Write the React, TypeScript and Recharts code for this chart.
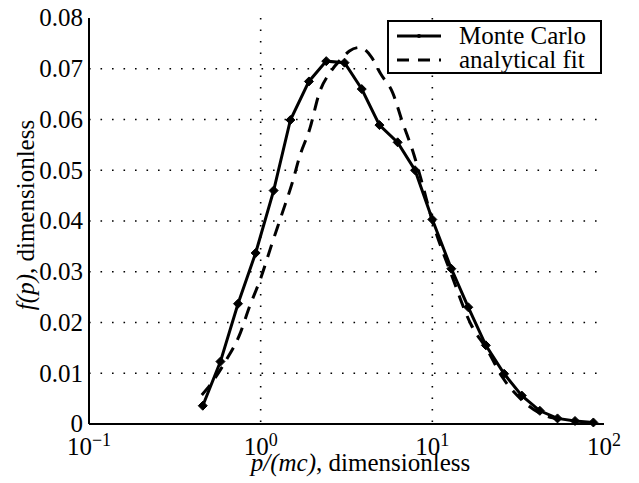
import React from 'react';
import { LineChart, Line, XAxis, YAxis, CartesianGrid, Legend } from 'recharts';

const mcP = [0.46, 0.583, 0.738, 0.935, 1.19, 1.49, 1.91, 2.41, 3.08, 3.88, 4.92, 6.28, 7.93, 10.0, 12.9, 16.2, 20.5, 26.2, 33.2, 42.3, 53.6, 67.8, 86.7];
const mcF = [0.0036, 0.0123, 0.0237, 0.0337, 0.046, 0.0599, 0.0675, 0.0715, 0.0712, 0.066, 0.0589, 0.0555, 0.050, 0.0403, 0.0306, 0.023, 0.0155, 0.0099, 0.0056, 0.0026, 0.0011, 0.0006, 0.0003];

const fitP = [0.454, 0.505, 0.63, 0.748, 0.863, 1.01, 1.15, 1.34, 1.53, 1.69, 1.93, 2.2, 2.58, 3.0, 3.29, 3.77, 4.42, 5.0, 5.87, 6.71, 7.69, 8.6, 10, 12.9, 16.8, 20.9, 25.5, 33.3, 42, 55];
const fitF = [0.0057, 0.0076, 0.0126, 0.0173, 0.0232, 0.0291, 0.035, 0.0417, 0.0476, 0.0528, 0.0581, 0.0653, 0.0696, 0.0722, 0.0735, 0.0742, 0.0723, 0.069, 0.0653, 0.0594, 0.0538, 0.0482, 0.04, 0.0295, 0.0196, 0.0146, 0.0093, 0.0047, 0.0022, 0.0009];

const xTicks = [0.1, 1, 10, 100];
const xTickExp = ['\u22121', '0', '1', '2'];
const xInnerTicks = [1, 10];
const yTicks = [0, 0.01, 0.02, 0.03, 0.04, 0.05, 0.06, 0.07, 0.08];
const yTickLabels = ['0', '0.01', '0.02', '0.03', '0.04', '0.05', '0.06', '0.07', '0.08'];
const yInnerTicks = [0.01, 0.02, 0.03, 0.04, 0.05, 0.06, 0.07];
const seriesNames = ['Monte Carlo', 'analytical fit'];

const mcData = mcP.map((p, i) => ({ p, f: mcF[i] }));
const fitData = fitP.map((p, i) => ({ p, f: fitF[i] }));

const FONT = 'Liberation Serif, Times New Roman, serif';
const textStyle = { fontFamily: FONT };

const XTick = (props: any) => {
  const { x, y, payload } = props;
  const idx = xTicks.indexOf(payload.value);
  return (
    <text x={x} y={y + 31} textAnchor="middle" style={textStyle} fontSize={25} fill="#000">
      <tspan>10</tspan>
      <tspan dy={-9} fontSize={18}>{xTickExp[idx]}</tspan>
    </text>
  );
};

const YTick = (props: any) => {
  const { x, y, payload } = props;
  const idx = yTicks.findIndex((v) => Math.abs(v - payload.value) < 1e-9);
  return (
    <text x={x} y={y} dy="0.33em" textAnchor="end" style={textStyle} fontSize={25} fill="#000">
      {yTickLabels[idx]}
    </text>
  );
};

const XLabel = (props: any) => {
  const { viewBox } = props;
  const cx = viewBox.x + viewBox.width / 2 + 14;
  return (
    <text x={cx} y={viewBox.y + 47} textAnchor="middle" style={textStyle} fontSize={25} fill="#000">
      <tspan fontStyle="italic">p/(mc)</tspan>
      <tspan>, dimensionless</tspan>
    </text>
  );
};

const YLabel = (props: any) => {
  const { viewBox } = props;
  const cy = viewBox.y + viewBox.height / 2 - 6;
  const x = 26;
  return (
    <text x={x} y={cy} textAnchor="middle" style={textStyle} fontSize={25} fill="#000" transform={`rotate(-90 ${x} ${cy})`}>
      <tspan fontStyle="italic">f(p)</tspan>
      <tspan>, dimensionless</tspan>
    </text>
  );
};

const Diamond = (props: any) => {
  const { cx, cy } = props;
  if (cx == null || cy == null) return null;
  const s = 4.5;
  return <path d={`M${cx},${cy - s}L${cx + s},${cy}L${cx},${cy + s}L${cx - s},${cy}Z`} fill="#000" stroke="#000" strokeWidth={1} />;
};

const LegendBox = () => (
  <div
    style={{
      border: '2px solid #000',
      background: '#fff',
      width: 211,
      height: 50,
      boxSizing: 'content-box',
      fontFamily: FONT,
      fontSize: 25,
      lineHeight: '25px',
      color: '#000',
    }}
  >
    {seriesNames.map((name, i) => (
      <div key={name} style={{ display: 'flex', alignItems: 'center', height: 25, marginTop: i === 0 ? 1 : -1 }}>
        <svg width={68} height={25} style={{ display: 'block' }}>
          <line x1={8} y1={13} x2={52} y2={13} stroke="#000" strokeWidth={3} strokeDasharray={i === 1 ? '12 9' : undefined} />
          {i === 0 ? <circle cx={30} cy={13} r={2} fill="#000" /> : null}
        </svg>
        <span style={{ marginLeft: 2 }}>{name}</span>
      </div>
    ))}
  </div>
);

export default function App() {
  return (
    <LineChart width={631} height={475} margin={{ top: 10, right: 35, bottom: 29, left: 0 }}>
      <CartesianGrid
        stroke="#000"
        strokeWidth={1.6}
        strokeDasharray="1.6 9.9"
        horizontalValues={yInnerTicks}
        verticalValues={xInnerTicks}
      />
      <XAxis xAxisId="bottomTicks" orientation="bottom" mirror type="number" scale="log" domain={[0.1, 100]} ticks={xInnerTicks} allowDataOverflow height={0} axisLine={false} tickSize={6} tickLine={{ stroke: '#000', strokeWidth: 1.5 }} tick={false} />
      <XAxis
        dataKey="p"
        type="number"
        scale="log"
        domain={[0.1, 100]}
        ticks={xTicks}
        allowDataOverflow
        height={30}
        stroke="#000"
        strokeWidth={2}
        tickLine={false}
        tickSize={0}
        tickMargin={0}
        tick={<XTick />}
        label={<XLabel />}
        interval={0}
      />
      <XAxis xAxisId="top" orientation="top" mirror type="number" scale="log" domain={[0.1, 100]} ticks={xInnerTicks} allowDataOverflow height={0} stroke="#000" strokeWidth={2} tick={false} tickSize={6} tickLine={{ stroke: '#000', strokeWidth: 1.5 }} />
      <YAxis yAxisId="leftTicks" orientation="left" mirror type="number" domain={[0, 0.08]} ticks={yInnerTicks} width={0} axisLine={false} tickSize={6} tickLine={{ stroke: '#000', strokeWidth: 1.5 }} tick={false} />
      <YAxis
        dataKey="f"
        type="number"
        domain={[0, 0.08]}
        ticks={yTicks}
        width={81}
        stroke="#000"
        strokeWidth={2}
        tickLine={false}
        tickSize={0}
        tickMargin={6}
        tick={<YTick />}
        label={<YLabel />}
        interval={0}
      />
      <YAxis yAxisId="right" orientation="right" mirror type="number" domain={[0, 0.08]} ticks={yInnerTicks} width={0} stroke="#000" strokeWidth={2} tick={false} tickSize={6} tickLine={{ stroke: '#000', strokeWidth: 1.5 }} />
      <Legend
        layout="horizontal"
        verticalAlign="middle"
        align="center"
        content={<LegendBox />}
        wrapperStyle={{ position: 'absolute', left: 379, top: 12, width: 215, height: 54 }}
      />
      <Line
        name={seriesNames[1]}
        data={fitData}
        dataKey="f"
        type="monotone"
        stroke="#000"
        strokeWidth={3}
        strokeDasharray="13 9"
        dot={false}
        isAnimationActive={false}
      />
      <Line
        name={seriesNames[0]}
        data={mcData}
        dataKey="f"
        type="linear"
        stroke="#000"
        strokeWidth={3}
        dot={<Diamond />}
        isAnimationActive={false}
      />
    </LineChart>
  );
}
